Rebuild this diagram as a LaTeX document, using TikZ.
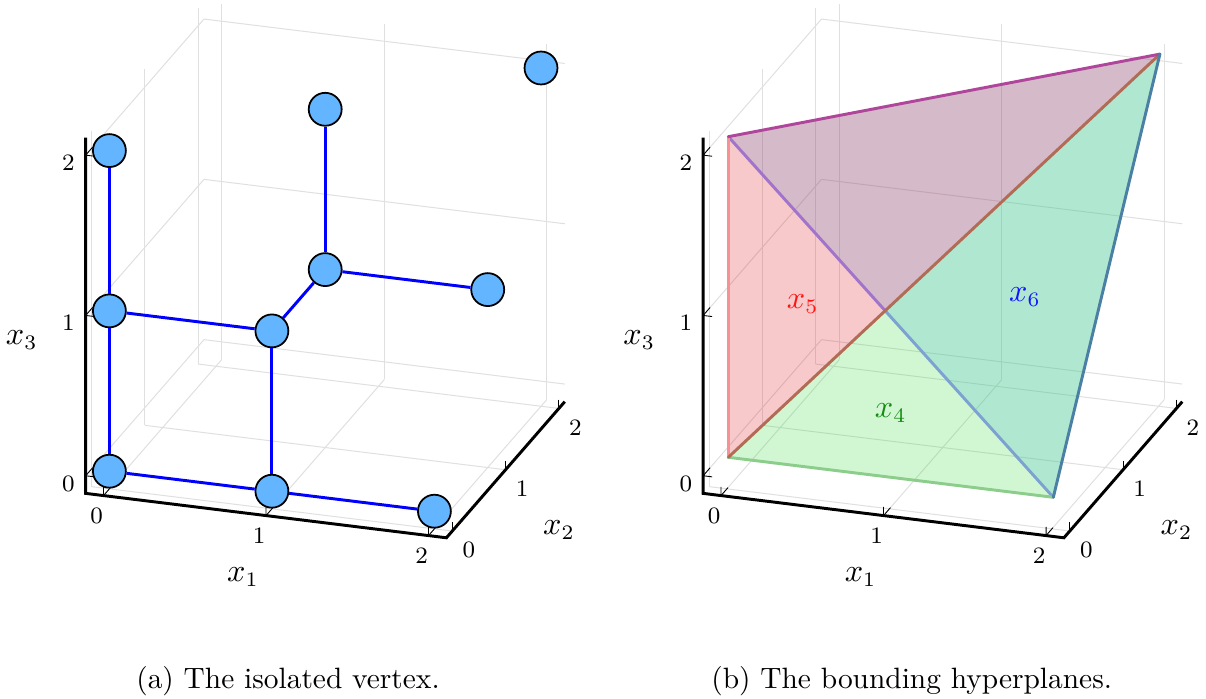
\documentclass[tikz,border=0pt]{standalone}
\definecolor{gridc}{RGB}{224,224,224}
\definecolor{mk}{RGB}{100,181,255}
\definecolor{fb}{RGB}{62,166,244}
\definecolor{fr}{RGB}{219,10,19}
\definecolor{fg}{RGB}{46,219,50}
\definecolor{diagc}{RGB}{145,147,255}
\definecolor{edR}{RGB}{248,145,145}
\definecolor{edG}{RGB}{140,205,140}
\definecolor{edBr}{RGB}{178,108,86}
\definecolor{edM}{RGB}{175,70,155}
\definecolor{edS}{RGB}{75,128,165}
\definecolor{lblG}{RGB}{20,140,20}
\definecolor{lblR}{RGB}{255,20,20}
\definecolor{lblB}{RGB}{20,20,255}
\tikzset{
  gridline/.style={draw=gridc, line width=0.35pt},
  axisline/.style={draw=black, line width=1pt},
  tickline/.style={draw=black, line width=0.3pt},
  ticklabel/.style={font=\fontsize{8}{9.5}\selectfont, inner sep=0pt},
  axlabel/.style={font=\fontsize{10.5}{12}\selectfont, inner sep=0pt},
  vtx/.style={circle, draw=black, line width=0.6pt, fill=mk, minimum size=11.2pt, inner sep=0pt},
  latedge/.style={draw=blue, line width=1pt},
  face/.style={fill opacity=0.22},
  polyedge/.style={line width=1pt, line cap=round},
  capt/.style={font=\fontsize{10}{12}\selectfont, inner sep=0pt, anchor=base},
  proj/.style={x={(55.25pt,-6.8pt)}, y={(18.122pt,20.842pt)}, z={(0pt,54.502pt)}}
}
\newcommand\plotframe[1]{%
  \foreach \k in {0,1,2} {
    \draw[gridline] (\k,2.11,-0.11) -- (\k,2.11,2.11);
    \draw[gridline] (-0.11,2.11,\k) -- (2.11,2.11,\k);
    \draw[gridline] (-0.11,\k,-0.11) -- (-0.11,\k,2.11);
    \draw[gridline] (-0.11,-0.11,\k) -- (-0.11,2.11,\k);
    \draw[gridline] (\k,-0.11,-0.11) -- (\k,2.11,-0.11);
    \draw[gridline] (-0.11,\k,-0.11) -- (2.11,\k,-0.11);
  }
  \draw[axisline] (-0.11,-0.11,2.11) -- (-0.11,-0.11,-0.11) -- (2.11,-0.11,-0.11) -- (2.11,2.11,-0.11);
  \foreach \k in {0,1,2} {
    \draw[tickline] (\k,0.02,-0.11) -- (\k,-0.11,-0.11) -- (\k,-0.11,-0.055);
    \draw[tickline] (2.11,\k,-0.055) -- (2.11,\k,-0.11);
    \draw[tickline] (-0.055,-0.11,\k) -- (-0.11,-0.11,\k) -- (-0.11,0.02,\k);
    \node[ticklabel, xshift=-2.38pt, yshift=-6.8pt] (#1-a\k) at (\k,-0.11,-0.11) {\k};
    \node[ticklabel, xshift=5.61pt, yshift=-6.56pt] (#1-b\k) at (2.11,\k,-0.11) {\k};
    \node[ticklabel, xshift=-5.92pt, yshift=-2.62pt] (#1-c\k) at (-0.11,-0.11,\k) {\k};
  }
  \node[axlabel, xshift=-7.82pt, yshift=-20.88pt] (#1-xa) at (1,-0.11,-0.11) {$x_1$};
  \node[axlabel, xshift=18.16pt, yshift=-20.5pt] (#1-xb) at (2.11,1,-0.11) {$x_2$};
  \node[axlabel, xshift=-21.76pt, yshift=-8.36pt] (#1-xc) at (-0.11,-0.11,1) {$x_3$};
}
\begin{document}
\begin{tikzpicture}[x=0.34pt, y=-0.34pt]
\useasboundingbox (0,0) rectangle (1206,698);
\coordinate (OL) at (109.4,471.2);
\coordinate (OR) at (726.9,471.2);
\coordinate (PR) at (728.3,457.3);
% ---------- panel (a)
\begin{scope}[shift={(OL)}, proj]
  \plotframe{L}
  \node[vtx] (p000) at (0,0,0) {};
  \node[vtx] (p100) at (1,0,0) {};
  \node[vtx] (p200) at (2,0,0) {};
  \node[vtx] (p001) at (0,0,1) {};
  \node[vtx] (p002) at (0,0,2) {};
  \node[vtx] (p101) at (1,0,1) {};
  \node[vtx] (p111) at (1,1,1) {};
  \node[vtx] (p112) at (1,1,2) {};
  \node[vtx] (p211) at (2,1,1) {};
  \node[vtx] (p222) at (2,2,2) {};
  \draw[latedge] (p000) -- (p100);
  \draw[latedge] (p100) -- (p200);
  \draw[latedge] (p000) -- (p001);
  \draw[latedge] (p001) -- (p002);
  \draw[latedge] (p001) -- (p101);
  \draw[latedge] (p100) -- (p101);
  \draw[latedge] (p101) -- (p111);
  \draw[latedge] (p111) -- (p112);
  \draw[latedge] (p111) -- (p211);
\end{scope}
% ---------- panel (b)
\begin{scope}[shift={(OR)}, proj]
  \plotframe{R}
\end{scope}
\begin{scope}[shift={(PR)}, proj]
  \coordinate (A) at (0,0,0);
  \coordinate (B) at (2,0,0);
  \coordinate (C) at (0,0,2);
  \coordinate (D) at (2,2,2);
  \fill[fb, face] (C) -- (B) -- (D) -- cycle;
  \draw[diagc, polyedge] (C) -- (B);
  \fill[fg, face] (A) -- (B) -- (D) -- cycle;
  \fill[fr, face] (A) -- (C) -- (D) -- cycle;
  \draw[edR, polyedge] (A) -- (C);
  \draw[edG, polyedge] (A) -- (B);
  \draw[edBr, polyedge] (A) -- (D);
  \draw[edM, polyedge] (C) -- (D);
  \draw[edS, polyedge] (B) -- (D);
\end{scope}
\node[axlabel, text=lblR] (lbl5) at (802.7,304) {$x_5$};
\node[axlabel, text=lblB] (lbl6) at (1025,297.3) {$x_6$};
\node[axlabel, text=lblG] (lbl4) at (890.7,412.7) {$x_4$};
% ---------- captions
\node[capt] (capa) at (288,688.3) {(a) The isolated vertex.};
\node[capt] (capb) at (911.7,688.3) {(b) The bounding hyperplanes.};
\end{tikzpicture}
\end{document}
